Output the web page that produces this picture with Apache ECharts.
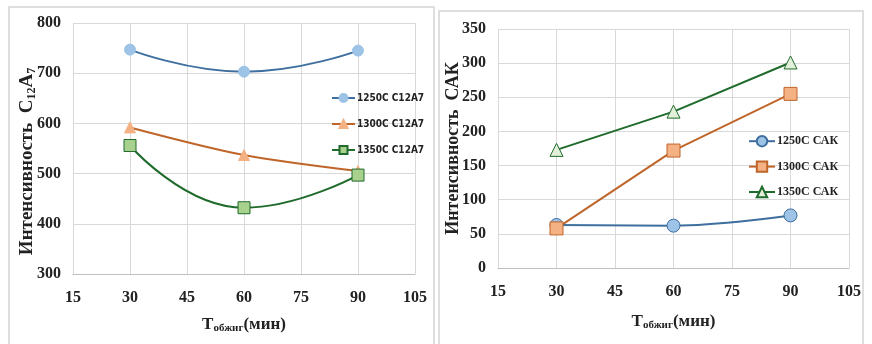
<!DOCTYPE html>
<html>
<head>
<meta charset="utf-8">
<script src="https://cdn.jsdelivr.net/npm/echarts@6/dist/echarts.min.js"></script>
<style>
  html, body { margin: 0; padding: 0; background: #fff; }
  #chart { width: 872px; height: 344px; }
</style>
</head>
<body>
<div id="chart"></div>
<script>
'use strict';

// время обжига, мин
const times = [30, 60, 90];

// левый график: интенсивность C12A7
const c12a7Names = ['1250C C12A7', '1300C C12A7', '1350C C12A7'];
const c12a7_1250 = [747, 703, 745];
const c12a7_1300 = [592, 537, 505];
const c12a7_1350 = [556, 432, 497];

// правый график: интенсивность САК
const cakNames = ['1250C САК', '1300C САК', '1350C САК'];
const cak_1250 = [63, 62, 77];
const cak_1300 = [58, 172, 255];
const cak_1350 = [173, 229, 301];

const SERIF = '"Liberation Serif", "DejaVu Serif", serif';
const NARROW = '"Liberation Sans Narrow", "DejaVu Sans Condensed", "Liberation Sans", sans-serif';

const BLUE = '#3f6f9f', BLUE_F = '#9dc3e6';
const ORANGE = '#c0652a', ORANGE_F = '#f4b183';
const GREEN = '#1f6b2c', GREEN_F = '#a9d18e';

function pairs(vals) { return times.map((t, i) => [t, vals[i]]); }

function xAxis(gridIndex, gap, margin) {
  return {
    gridIndex, type: 'value', min: 15, max: 105, interval: 15,
    name: '{b|T}{s|обжиг}{b|(мин)}',
    nameLocation: 'middle', nameGap: gap, nameMoveOverlap: false,
    nameTextStyle: {
      rich: {
        b: { fontFamily: SERIF, fontWeight: 'bold', fontSize: 17, color: '#222' },
        s: { fontFamily: SERIF, fontWeight: 'bold', fontSize: 11, color: '#222', verticalAlign: 'bottom', padding: [7, 0, 0, 0] }
      }
    },
    axisLine: { lineStyle: { color: '#bfbfbf' } },
    axisTick: { show: false },
    axisLabel: { fontFamily: SERIF, fontWeight: 'bold', fontSize: 16, color: '#222', margin },
    splitLine: { lineStyle: { color: '#d9d9d9' } }
  };
}

function yAxis(gridIndex, min, max, interval, name, gap, size, shift) {
  return {
    gridIndex, type: 'value', min, max, interval,
    name, nameLocation: 'middle', nameGap: gap, nameRotate: 90, nameMoveOverlap: false,
    nameTextStyle: {
      padding: [0, shift, 0, 0],
      rich: {
        b: { fontFamily: SERIF, fontWeight: 'bold', fontSize: size, color: '#222' },
        s: { fontFamily: SERIF, fontWeight: 'bold', fontSize: 12, color: '#222', verticalAlign: 'bottom', padding: [9, 0, 0, 0] }
      }
    },
    axisLine: { show: false },
    axisTick: { show: false },
    axisLabel: { fontFamily: SERIF, fontWeight: 'bold', fontSize: 16, color: '#222', margin: 12 },
    splitLine: { lineStyle: { color: '#d9d9d9' } }
  };
}

function line(name, vals, idx, color, fill, border, symbol, size, smooth) {
  return {
    name, type: 'line', xAxisIndex: idx, yAxisIndex: idx,
    data: pairs(vals), smooth, symbol, symbolSize: size,
    lineStyle: { color, width: 2 },
    itemStyle: { color: fill, borderColor: border, borderWidth: 1 }
  };
}

const chart = echarts.init(document.getElementById('chart'), null, { renderer: 'canvas' });

chart.setOption({
  animation: false,
  backgroundColor: '#fff',
  graphic: [
    { type: 'rect', shape: { x: 9, y: 7, width: 425, height: 340 }, style: { fill: 'none', stroke: '#d4d4d4', lineWidth: 1.5 } },
    { type: 'rect', shape: { x: 439, y: 11, width: 424, height: 336 }, style: { fill: 'none', stroke: '#d4d4d4', lineWidth: 1.5 } }
  ],
  grid: [
    { left: 73, right: 457, top: 23, bottom: 70 },
    { left: 498, right: 23, top: 29, bottom: 76 }
  ],
  xAxis: [xAxis(0, 42, 16), xAxis(1, 45, 16)],
  yAxis: [
    yAxis(0, 300, 800, 100, '{b|Интенсивность  C}{s|12}{b|A}{s|7}', 35, 19, 26),
    yAxis(1, 0, 350, 50, '{b|Интенсивность  САК}', 36, 18, 0)
  ],
  legend: [
    {
      data: c12a7Names, orient: 'vertical', left: 326, top: 88, itemGap: 16,
      itemWidth: 23, itemHeight: 10,
      textStyle: { fontFamily: NARROW, fontWeight: 'bold', fontSize: 10, color: '#222', padding: [0, 0, 0, -3] }
    },
    {
      data: cakNames, orient: 'vertical', left: 743, top: 130, itemGap: 13,
      itemWidth: 26, itemHeight: 13,
      textStyle: { fontFamily: SERIF, fontWeight: 'bold', fontSize: 12, color: '#222', padding: [0, 0, 0, -3] }
    }
  ],
  series: [
    line(c12a7Names[0], c12a7_1250, 0, BLUE, BLUE_F, BLUE_F, 'circle', 11, 0.5),
    line(c12a7Names[1], c12a7_1300, 0, ORANGE, ORANGE_F, ORANGE_F, 'triangle', 11, 0.3),
    line(c12a7Names[2], c12a7_1350, 0, GREEN, GREEN_F, GREEN, 'rect', 12, 0.5),
    line(cakNames[0], cak_1250, 1, BLUE, BLUE_F, BLUE, 'circle', 13, 0.4),
    line(cakNames[1], cak_1300, 1, ORANGE, ORANGE_F, ORANGE, 'rect', 13, false),
    line(cakNames[2], cak_1350, 1, GREEN, '#e2f0d9', GREEN, 'triangle', 13, false)
  ]
});
</script>
</body>
</html>
